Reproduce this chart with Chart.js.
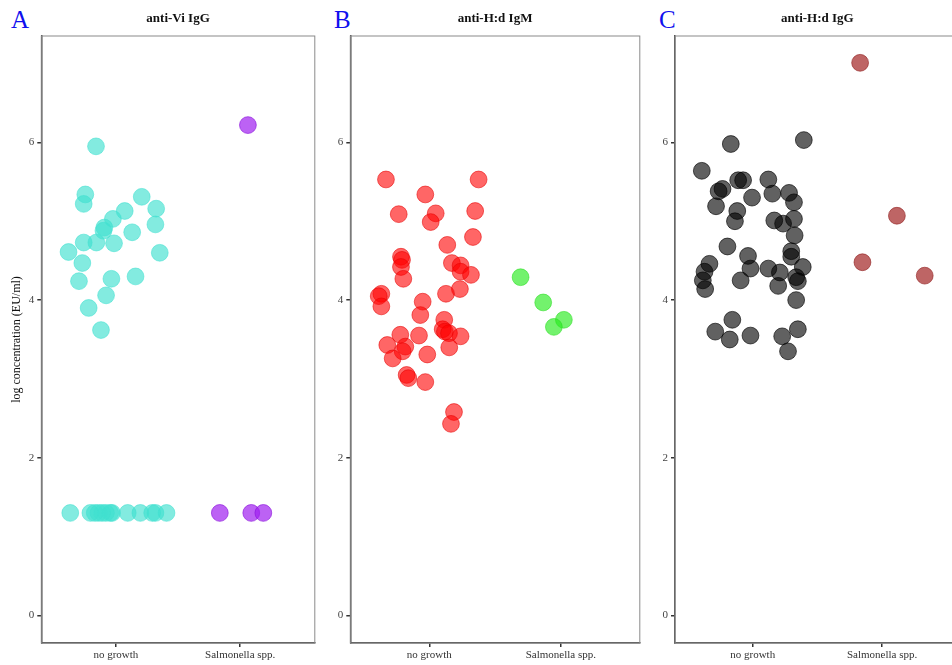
<!DOCTYPE html>
<html>
<head>
<meta charset="utf-8">
<script src="https://cdn.jsdelivr.net/npm/chart.js@4/dist/chart.umd.min.js"></script>
<style>
  html, body { margin: 0; padding: 0; background: #fff; overflow: hidden; }
  body { width: 952px; height: 665px; position: relative; }
  .panel { position: absolute; top: 0; height: 665px; }
  .letter {
    position: absolute; top: 6px;
    font-family: 'Liberation Serif', 'DejaVu Serif', serif;
    font-size: 25px; color: #1010ee;
  }
</style>
</head>
<body>
<div class="letter" style="left:11px">A</div>
<div class="letter" style="left:334px">B</div>
<div class="letter" style="left:659px">C</div>
<div class="panel" style="left:0px;width:324px"><canvas id="chartA"></canvas></div>
<div class="panel" style="left:328px;width:321px"><canvas id="chartB"></canvas></div>
<div class="panel" style="left:653px;width:316px"><canvas id="chartC"></canvas></div>
<script>
// Categories and ticks
const CATEGORIES = ['no growth', 'Salmonella spp.'];
const Y_TICKS = [0, 2, 4, 6];
const Y_TITLE = 'log concentration (EU/ml)';
const TITLES = ['anti-Vi IgG', 'anti-H:d IgM', 'anti-H:d IgG'];

// Panel A - anti-Vi IgG (x = jittered category position)
const VI_NG_X = [0.84, 0.754, 0.741, 1.208, 1.071, 1.324, 0.976, 0.907, 0.90, 1.318, 1.131,
  0.741, 0.843, 0.985, 0.619, 1.353, 0.730, 0.703, 0.964, 1.158, 0.921, 0.781, 0.88,
  0.633, 0.795, 0.83, 0.86, 0.89, 0.92, 0.955, 0.969, 1.095, 1.197, 1.292, 1.318, 1.407];
const VI_NG_Y = [5.95, 5.34, 5.22, 5.31, 5.13, 5.16, 5.03, 4.92, 4.88, 4.96, 4.86,
  4.73, 4.73, 4.72, 4.61, 4.60, 4.47, 4.24, 4.27, 4.30, 4.06, 3.90, 3.62,
  1.30, 1.30, 1.30, 1.30, 1.30, 1.30, 1.30, 1.30, 1.30, 1.30, 1.30, 1.30, 1.30];
const VI_SAL_X = [2.062, 1.836, 2.089, 2.186];
const VI_SAL_Y = [6.22, 1.30, 1.30, 1.30];

// Panel B - anti-H:d IgM
const IGM_NG_X = [0.671, 1.375, 0.970, 0.768, 1.049, 1.011, 1.349, 1.332, 1.137, 0.785,
  0.793, 0.785, 0.803, 1.172, 1.238, 1.238, 1.317, 1.233, 1.127, 0.636, 0.616, 0.636,
  0.950, 0.932, 1.114, 1.102, 1.119, 1.150, 1.238, 1.152, 0.780, 0.922, 0.681, 0.818,
  0.798, 0.722, 0.985, 0.828, 0.841, 0.970, 1.188, 1.165];
const IGM_NG_Y = [5.53, 5.53, 5.34, 5.09, 5.10, 4.99, 5.13, 4.80, 4.70, 4.55,
  4.51, 4.42, 4.27, 4.47, 4.44, 4.36, 4.32, 4.14, 4.08, 4.08, 4.05, 3.92,
  3.98, 3.81, 3.75, 3.63, 3.60, 3.58, 3.54, 3.40, 3.56, 3.55, 3.43, 3.41,
  3.35, 3.26, 3.31, 3.05, 3.01, 2.96, 2.58, 2.43];
const IGM_SAL_X = [1.694, 1.866, 2.023, 1.947];
const IGM_SAL_Y = [4.29, 3.97, 3.75, 3.66];

// Panel C - anti-H:d IgG
const IGG_NG_X = [0.831, 1.395, 0.607, 0.737, 0.767, 0.888, 0.926, 1.121, 0.717, 0.995,
  1.152, 1.281, 1.319, 0.881, 0.863, 1.167, 1.235, 1.319, 1.324, 0.805, 1.298, 1.298,
  0.964, 0.983, 1.121, 1.210, 1.387, 0.666, 0.628, 0.615, 0.633, 0.907, 1.197, 1.336,
  1.349, 1.336, 0.843, 0.711, 0.823, 0.983, 1.228, 1.349, 1.273];
const IGG_NG_Y = [5.98, 6.03, 5.64, 5.38, 5.41, 5.52, 5.52, 5.53, 5.19, 5.30,
  5.35, 5.36, 5.24, 5.13, 5.00, 5.01, 4.97, 5.03, 4.82, 4.68, 4.62, 4.55,
  4.56, 4.40, 4.40, 4.35, 4.42, 4.46, 4.36, 4.25, 4.14, 4.25, 4.18, 4.29,
  4.24, 4.00, 3.75, 3.60, 3.50, 3.55, 3.54, 3.63, 3.35];
const IGG_SAL_X = [1.830, 2.114, 1.848, 2.329];
const IGG_SAL_Y = [7.01, 5.07, 4.48, 4.31];

const SERIF = "'Liberation Serif', 'DejaVu Serif', serif";

function toPoints(xs, ys) {
  return xs.map((x, i) => ({ x: x, y: ys[i] }));
}

// gray box round the plot area
const panelBox = {
  id: 'panelBox',
  afterDatasetsDraw(chart) {
    const a = chart.chartArea;
    const ctx = chart.ctx;
    ctx.save();
    ctx.strokeStyle = '#8a8a8a';
    ctx.lineWidth = 1;
    ctx.strokeRect(a.left, a.top, a.right - a.left, a.bottom - a.top);
    ctx.restore();
  }
};

function makePanel(canvasId, width, yWidth, title, showYTitle, groups) {
  const canvas = document.getElementById(canvasId);
  canvas.width = width;
  canvas.height = 665;
  canvas.style.width = width + 'px';
  canvas.style.height = '665px';

  const datasets = groups.map(g => ({
    data: toPoints(g.x, g.y),
    backgroundColor: g.fill,
    borderColor: g.line,
    borderWidth: 0.8,
    pointRadius: 8.4,
    pointHoverRadius: 8.4,
  }));

  return new Chart(canvas.getContext('2d'), {
    type: 'scatter',
    data: { datasets },
    options: {
      responsive: false,
      animation: false,
      layout: { padding: { left: 0, right: 5, top: 0, bottom: 0 } },
      plugins: {
        legend: { display: false },
        tooltip: { enabled: false },
        title: {
          display: true,
          text: title,
          fullSize: false,
          color: '#111',
          font: { family: SERIF, size: 13, weight: 'bold', lineHeight: 1.2 },
          padding: { top: 11, bottom: 9.4 },
        },
      },
      scales: {
        x: {
          type: 'linear',
          min: 0.4,
          max: 2.6,
          afterBuildTicks: (axis) => { axis.ticks = [{ value: 1 }, { value: 2 }]; },
          afterFit: (axis) => { axis.height = 22; },
          ticks: {
            color: '#333',
            padding: 2,
            font: { family: SERIF, size: 11 },
            callback: (v) => CATEGORIES[Math.round(v) - 1],
          },
          grid: { drawOnChartArea: false, drawTicks: true, tickLength: 4, color: '#333', lineWidth: 1.5 },
          border: { display: true, color: '#444', width: 1.5 },
        },
        y: {
          min: -0.35,
          max: 7.35,
          afterBuildTicks: (axis) => { axis.ticks = Y_TICKS.map(v => ({ value: v })); },
          afterFit: (axis) => { axis.width = yWidth; },
          title: {
            display: showYTitle,
            text: Y_TITLE,
            color: '#111',
            font: { family: SERIF, size: 12 },
            padding: { top: 10, bottom: 0 },
          },
          ticks: {
            color: '#444',
            padding: 3,
            font: { family: SERIF, size: 11 },
          },
          grid: { drawOnChartArea: false, drawTicks: true, tickLength: 4, color: '#333', lineWidth: 1.5 },
          border: { display: true, color: '#444', width: 1.5 },
        },
      },
    },
    plugins: [panelBox],
  });
}

makePanel('chartA', 324, 41.3, TITLES[0], true, [
  { x: VI_NG_X, y: VI_NG_Y, fill: 'rgba(64,224,208,0.65)', line: 'rgba(64,224,208,0.7)' },
  { x: VI_SAL_X, y: VI_SAL_Y, fill: 'rgba(160,32,240,0.7)', line: 'rgba(140,20,220,0.8)' },
]);

makePanel('chartB', 321, 22.3, TITLES[1], false, [
  { x: IGM_NG_X, y: IGM_NG_Y, fill: 'rgba(255,0,0,0.6)', line: 'rgba(230,0,0,0.7)' },
  { x: IGM_SAL_X, y: IGM_SAL_Y, fill: 'rgba(40,235,30,0.65)', line: 'rgba(40,220,30,0.7)' },
]);

makePanel('chartC', 316, 22, TITLES[2], false, [
  { x: IGG_NG_X, y: IGG_NG_Y, fill: 'rgba(0,0,0,0.62)', line: 'rgba(0,0,0,0.8)' },
  { x: IGG_SAL_X, y: IGG_SAL_Y, fill: 'rgba(165,42,42,0.72)', line: 'rgba(150,40,40,0.85)' },
]);
</script>
</body>
</html>
